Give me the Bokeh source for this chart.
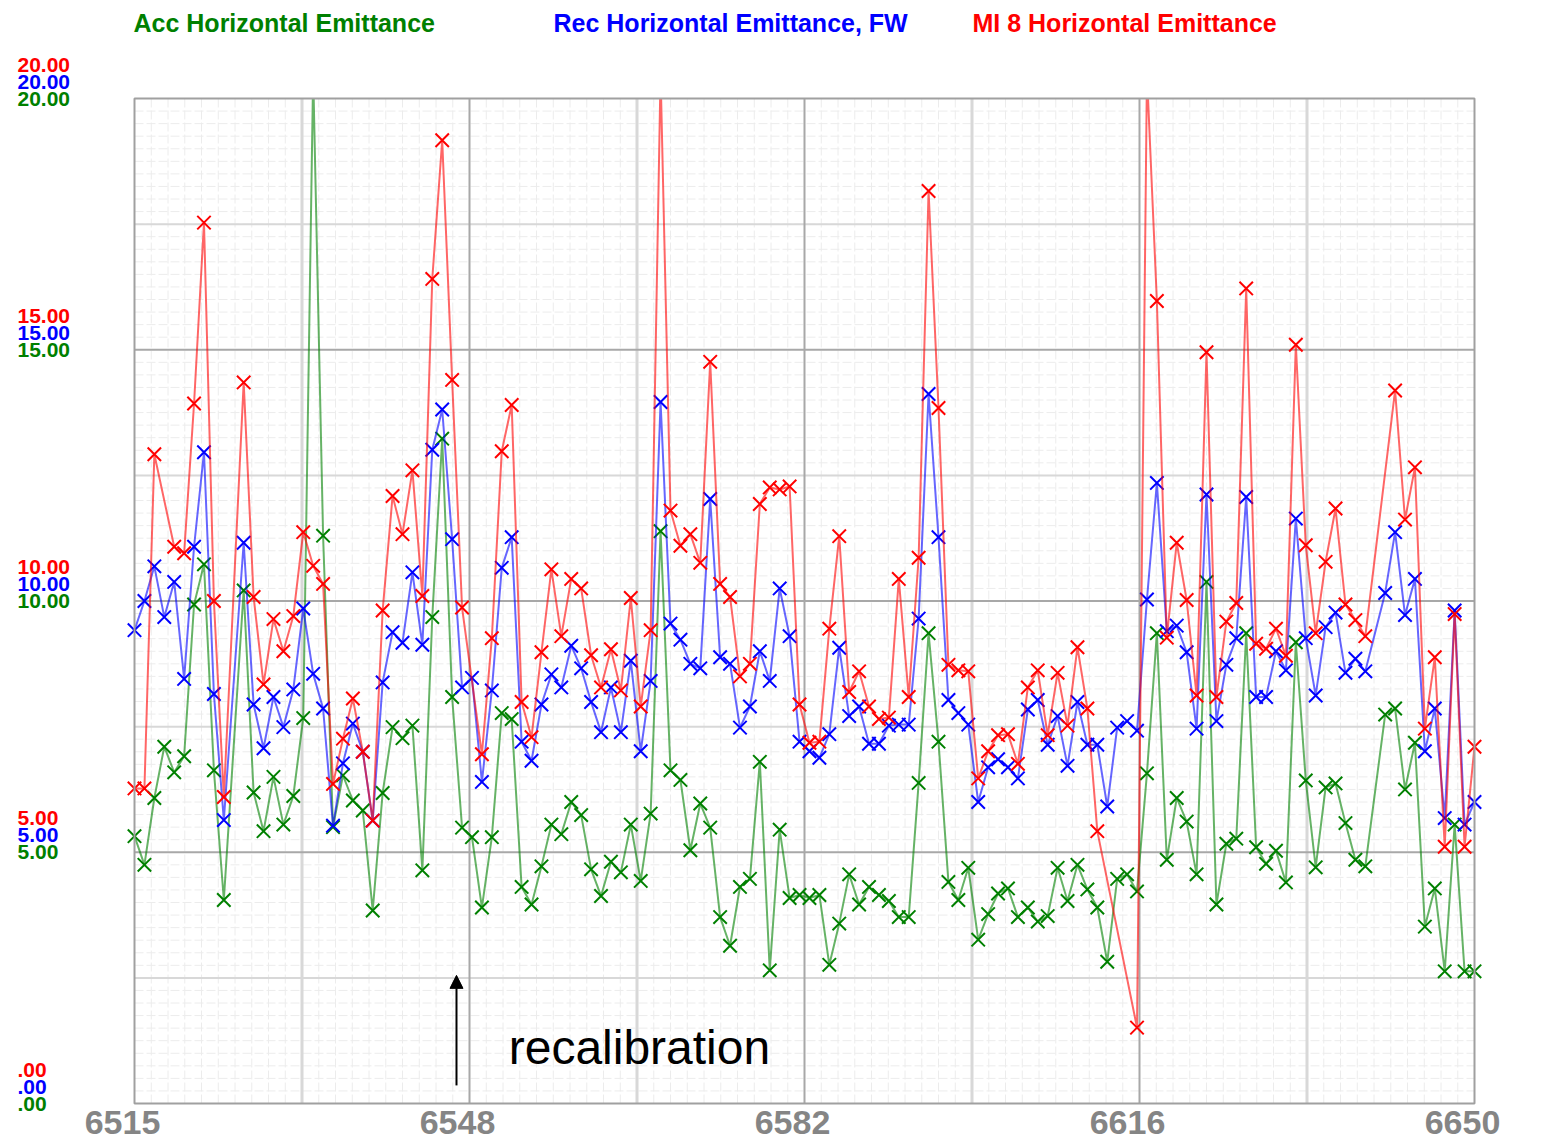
from bokeh.plotting import figure
from bokeh.models import Range1d, Label, Arrow, NormalHead
from bokeh.embed import file_html
from bokeh.resources import INLINE

# ---------------- data ----------------
x_ticks = [6515, 6548.75, 6582.5, 6616.25, 6650]
x_tick_labels = ["6515", "6548", "6582", "6616", "6650"]
y_ticks = [0, 5, 10, 15, 20]
y_tick_labels = [".00", "5.00", "10.00", "15.00", "20.00"]

series_names = ["Acc Horizontal Emittance", "Rec Horizontal Emittance, FW", "MI 8 Horizontal Emittance"]

acc_x = list(range(6515, 6525)) + list(range(6526, 6640)) + list(range(6641, 6651))
acc_y = [5.32, 4.75, 6.08, 7.1, 6.59, 6.91, 9.93, 10.73, 6.63, 4.05,
         10.21, 6.19, 5.42, 6.5, 5.55, 6.12, 7.67, 20.5, 11.3, 5.5,
         6.53, 6.03, 5.83, 3.84, 6.18, 7.49, 7.27, 7.52, 4.64, 9.68,
         13.23, 8.09, 5.49, 5.30, 3.9, 5.30, 7.77, 7.65, 4.31, 3.96,
         4.72, 5.55, 5.36, 6.0, 5.74, 4.66, 4.13, 4.81, 4.6, 5.55,
         4.43, 5.77, 11.39, 6.63, 6.44, 5.04, 5.97, 5.49, 3.71, 3.14,
         4.31, 4.47, 6.8, 2.65, 5.45, 4.09, 4.15, 4.09, 4.15, 2.76,
         3.58, 4.56, 3.96, 4.31, 4.15, 4.03, 3.71, 3.71, 6.38, 9.36,
         7.2, 4.41, 4.05, 4.69, 3.26, 3.77, 4.18, 4.28, 3.71, 3.9,
         3.62, 3.73, 4.69, 4.03, 4.75, 4.26, 3.9, 2.82, 4.47, 4.56,
         4.22, 6.57, 9.36, 4.85, 6.08, 5.61, 4.56, 10.38, 3.96, 5.17,
         5.27, 9.36, 5.10, 4.77, 5.03, 4.40, 9.18, 6.43, 4.70, 6.29,
         6.37, 5.58, 4.85, 4.72,
         7.74, 7.86, 6.25, 7.18, 3.52, 4.28, 2.63, 5.55, 2.63, 2.63]

rec_x = list(range(6515, 6525)) + list(range(6526, 6640)) + list(range(6641, 6651))
rec_y = [9.42, 10.0, 10.69, 9.68, 10.38, 8.45, 11.08, 12.96, 8.15, 5.64,
         11.16, 7.94, 7.07, 8.09, 7.49, 8.24, 9.85, 8.55, 7.86, 5.53,
         6.77, 7.56, 7.0, 5.63, 8.38, 9.38, 9.17, 10.57, 9.13, 13.01,
         13.81, 11.23, 8.28, 8.47, 6.40, 8.22, 10.66, 11.27, 7.2, 6.82,
         7.94, 8.54, 8.28, 9.11, 8.66, 7.99, 7.39, 8.28, 7.39, 8.81,
         7.01, 8.41, 13.96, 9.55, 9.23, 8.75, 8.66, 12.03, 8.88, 8.75,
         7.48, 7.9, 9.0, 8.41, 10.25, 9.3, 7.2, 7.01, 6.88, 7.35,
         9.07, 7.71, 7.9, 7.16, 7.16, 7.52, 7.54, 7.54, 9.65, 14.12,
         11.27, 8.03, 7.77, 7.54, 6.0, 6.69, 6.85, 6.69, 6.47, 7.84,
         8.03, 7.14, 7.71, 6.72, 7.99, 7.14, 7.14, 5.91, 7.48, 7.61,
         7.42, 10.03, 12.35, 9.4, 9.51, 8.98, 7.46, 12.12, 7.61, 8.73,
         9.26, 12.07, 8.09, 8.09, 9.0, 8.62, 11.64, 9.26, 8.12, 9.48,
         9.77, 8.57, 8.85, 8.6,
         10.16, 11.37, 9.72, 10.44, 7.01, 7.86, 5.68, 9.81, 5.55, 6.0]

mi8_x = ([6515, 6516, 6517] + list(range(6519, 6525)) + list(range(6526, 6549))
         + list(range(6550, 6613)) + list(range(6616, 6640)) + list(range(6642, 6651)))
mi8_y = [6.27, 6.27, 12.92,
         11.08, 10.95, 13.93, 17.53, 10.0, 6.10,
         14.35, 10.08, 8.34, 9.64, 9.0, 9.70, 11.37, 10.70, 10.34, 6.36,
         7.26, 8.06, 7.0, 5.63, 9.81, 12.09, 11.33, 12.6, 10.1, 16.41,
         19.17, 14.4, 9.87,
         6.95, 9.26, 12.98, 13.9, 7.99, 7.29, 8.98, 10.63, 9.3, 10.44,
         10.25, 8.92, 8.28, 9.04, 8.22, 10.06, 7.9, 9.42, 20.5, 11.8,
         11.1, 11.33, 10.76, 14.76, 10.34, 10.08, 8.5, 8.75, 11.93, 12.26,
         12.22, 12.28, 7.94, 7.18, 7.2, 9.45, 11.29, 8.19, 8.6, 7.9,
         7.65, 7.68, 10.44, 8.09, 10.86, 18.16, 13.84, 8.73, 8.62, 8.6,
         6.47, 7.01, 7.33, 7.35, 6.76, 8.28, 8.62, 7.33, 8.57, 7.52,
         9.08, 7.86, 5.42,
         1.51, 20.5, 15.97, 9.27, 11.16, 10.02, 8.12, 14.95, 8.09, 9.59,
         9.96, 16.22, 9.15, 9.05, 9.45, 8.91, 15.1, 11.11, 9.36, 10.78,
         11.84, 9.93, 9.62, 9.3,
         14.19, 11.62, 12.66, 7.46, 8.88, 5.11, 9.74, 5.11, 7.1]

assert len(acc_x) == len(acc_y)
assert len(rec_x) == len(rec_y)
assert len(mi8_x) == len(mi8_y)

annotation_text = "recalibration"
recal_x = 6547.44

# ---------------- layout ----------------
W, H = 1565, 1141
left_px, right_px, top_px, bottom_px = 134, 1474, 98, 1103
x0, x1 = x_ticks[0], x_ticks[-1]
y0, y1 = y_ticks[0], y_ticks[-1]
sx = (right_px - left_px) / (x1 - x0)
sy = (bottom_px - top_px) / (y1 - y0)
xr = Range1d(x0 - left_px / sx, x1 + (W - right_px) / sx)
yr = Range1d(y0 - (H - bottom_px) / sy, y1 + top_px / sy)

p = figure(width=W, height=H, output_backend="svg", toolbar_location=None,
           x_range=xr, y_range=yr, min_border=0)
p.min_border_left = p.min_border_right = p.min_border_top = p.min_border_bottom = 0
p.axis.visible = False
p.xgrid.visible = False
p.ygrid.visible = False
p.title.visible = False
p.outline_line_color = None
p.background_fill_color = "white"
p.border_fill_color = "white"


def vlines(xs, color, width, dash="solid"):
    p.segment(x0=xs, y0=[y0] * len(xs), x1=xs, y1=[y1] * len(xs),
              line_color=color, line_width=width, line_dash=dash)


def hlines(ys, color, width, dash="solid"):
    p.segment(x0=[x0] * len(ys), y0=ys, x1=[x1] * len(ys), y1=ys,
              line_color=color, line_width=width, line_dash=dash)


xstep = (x1 - x0) / 80.0
x_minor = [x0 + xstep * i for i in range(1, 80)]
y_minor = [0.25 * i for i in range(1, 80)]
x_mid = [(a + b) / 2 for a, b in zip(x_ticks[:-1], x_ticks[1:])]
y_mid = [2.5, 7.5, 12.5, 17.5]

vlines(x_minor, "#ececec", 1, "9 3")
hlines(y_minor, "#ececec", 1, "9 3")
vlines(x_mid, "#d8d8d8", 3)
hlines(y_mid, "#d8d8d8", 2)
vlines(x_ticks[1:-1], "#a8a8a8", 2)
hlines(y_ticks[1:-1], "#a8a8a8", 2)

colors = ["#008000", "#0000ff", "#ff0000"]
for xs, ys, c in [(acc_x, acc_y, colors[0]), (rec_x, rec_y, colors[1]), (mi8_x, mi8_y, colors[2])]:
    p.line(xs, ys, line_color=c, line_width=2, line_alpha=0.6)
    p.scatter(xs, ys, marker="x", size=19, line_color=c, line_width=2)

# white mask above the plotting area (values above the top are cut off)
p.quad(left=[xr.start], right=[xr.end], bottom=[y1], top=[yr.end],
       fill_color="white", line_color=None)
# plot-area border
p.quad(left=[x0], right=[x1], bottom=[y0], top=[y1], fill_color=None,
       line_color="#a0a0a0", line_width=2)

FONT = "Liberation Sans"

# legend-like titles
legend_offsets = [-1, 419, 838]
for name, c, off in zip(series_names, colors, legend_offsets):
    p.add_layout(Label(x=x0, y=y1, x_offset=off, y_offset=76, text=name, text_color=c,
                       text_font=FONT, text_font_style="bold",
                       text_font_size="25px", text_baseline="middle", text_align="left"))

# y tick labels (three stacked colors)
for v, lab in zip(y_ticks, y_tick_labels):
    for c, dy in [(colors[2], 34), (colors[1], 17), (colors[0], 0)]:
        p.add_layout(Label(x=x0, y=v, x_offset=-117, y_offset=dy, text=lab, text_color=c,
                           text_font=FONT, text_font_style="bold",
                           text_font_size="21px", text_baseline="middle", text_align="left"))

# x tick labels
for v, lab in zip(x_ticks, x_tick_labels):
    p.add_layout(Label(x=v, y=y0, x_offset=-12, y_offset=-19, text=lab, text_color="#858585",
                       text_font=FONT, text_font_style="bold",
                       text_font_size="34px", text_baseline="middle", text_align="center"))

# recalibration annotation
p.add_layout(Arrow(x_start=recal_x, y_start=0.36, x_end=recal_x, y_end=2.55,
                   line_color="black", line_width=2,
                   end=NormalHead(size=13, fill_color="black", line_color="black")))
p.add_layout(Label(x=6552.7, y=1.11, text=annotation_text, text_color="black",
                   text_font=FONT, text_font_size="48px",
                   text_baseline="middle", text_align="left"))

open("out.html", "w").write(file_html(p, INLINE))
